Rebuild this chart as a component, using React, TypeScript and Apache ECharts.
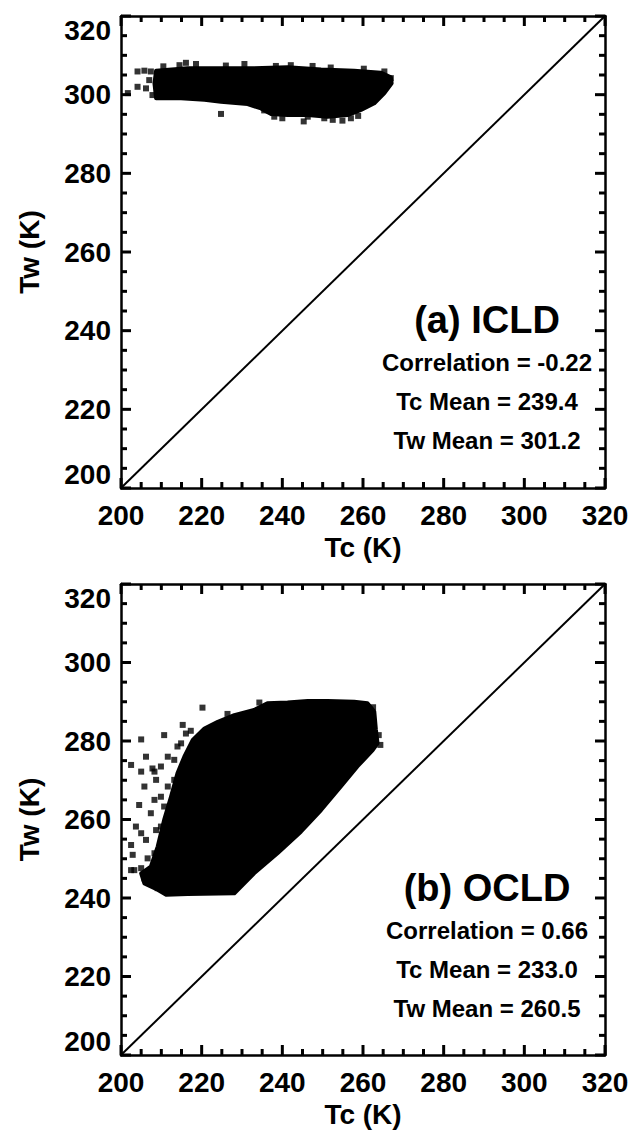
import React, { useEffect, useRef } from 'react';
import * as echarts from 'echarts';

// axis ticks shared by both panels (K)
const tickValues = [200, 220, 240, 260, 280, 300, 320];
const minorTickValues = [
  205, 210, 215, 225, 230, 235, 245, 250, 255, 265, 270, 275,
  285, 290, 295, 305, 310, 315,
];
const oneToOne = [
  [200, 200],
  [320, 320],
];

// (a) ICLD: outline of the solid cloud, then scattered points around it [Tc, Tw]
const icldCloud = [
  [208.7, 306.1], [216.5, 306.7], [224.8, 306.7], [233.0, 306.7], [241.3, 307.0],
  [249.6, 306.4], [257.8, 306.1], [264.4, 305.6], [266.9, 304.4], [267.1, 302.9],
  [265.3, 300.4], [262.8, 297.8], [259.5, 296.1], [256.2, 294.8], [251.2, 294.4],
  [246.3, 294.8], [241.3, 294.8], [237.2, 295.1], [234.7, 296.5], [231.4, 297.6],
  [224.8, 298.2], [220.7, 298.7], [214.9, 299.1], [208.7, 299.1], [208.3, 302.9],
];
const icldPoints = [
  [201.7, 300.4], [204.1, 305.9], [205.8, 306.1], [207.4, 305.9], [204.1, 302.0],
  [206.2, 301.6], [207.8, 299.9], [207.0, 303.7], [224.8, 295.1], [216.1, 308.1],
  [214.5, 307.5], [218.6, 307.8], [230.6, 307.8], [238.4, 307.3], [242.1, 307.5],
  [252.0, 306.9], [265.3, 305.9], [266.9, 304.2], [245.3, 293.2], [246.3, 294.4],
  [250.4, 294.0], [252.5, 293.6], [254.9, 293.4], [257.0, 294.0], [258.8, 294.6],
  [238.0, 294.4], [243.0, 295.3], [210.5, 307.2], [226.0, 307.4], [247.5, 307.3],
  [260.2, 306.6], [235.5, 296.0], [240.0, 294.0],
];
const icldText = ['(a) ICLD', 'Correlation = -0.22', 'Tc Mean = 239.4', 'Tw Mean = 301.2'];

// (b) OCLD
const ocldCloud = [
  [211.2, 240.8], [216.5, 241.0], [228.1, 241.2], [233.0, 246.3], [238.8, 251.4],
  [244.6, 256.9], [249.6, 262.4], [254.5, 268.4], [258.6, 273.5], [262.4, 277.7],
  [263.6, 279.4], [263.2, 282.8], [262.8, 287.5], [261.1, 289.6], [257.8, 290.0],
  [251.2, 290.2], [246.3, 290.2], [241.3, 289.8], [236.3, 289.6], [233.0, 287.9],
  [228.1, 286.6], [224.0, 284.9], [220.7, 283.2], [217.8, 280.3], [215.7, 276.0],
  [214.0, 271.8], [212.4, 265.8], [210.7, 259.9], [209.1, 253.1], [207.4, 248.0],
  [205.0, 246.3], [205.8, 243.7], [209.1, 242.1],
];
const ocldPoints = [
  [220.2, 288.5], [234.3, 289.8], [205.0, 280.4], [210.7, 281.5], [215.3, 284.1],
  [217.3, 282.6], [226.4, 286.9], [202.5, 273.9], [206.2, 276.0], [207.8, 273.0],
  [214.0, 278.6], [205.8, 268.4], [205.0, 272.2], [208.7, 270.1], [204.5, 263.7],
  [208.3, 265.0], [207.4, 261.6], [206.2, 254.8], [202.5, 253.5], [202.9, 251.0],
  [208.7, 257.3], [210.7, 263.3], [211.6, 268.4], [213.2, 275.2], [203.3, 247.1],
  [202.5, 247.1], [205.0, 247.6], [205.8, 245.0], [209.1, 242.5], [207.8, 246.3],
  [218.2, 276.0], [220.7, 281.1], [224.0, 283.2], [229.7, 285.3],
  [208.3, 272.2], [209.9, 273.5], [211.6, 276.0], [214.9, 279.4], [216.1, 281.9],
  [213.2, 270.1], [209.9, 265.8], [212.4, 261.6], [209.9, 258.2], [212.4, 254.8],
  [208.3, 251.4], [211.6, 250.5], [206.6, 250.1], [205.0, 256.5], [203.7, 258.2],
  [263.9, 281.5], [264.3, 279.0], [262.5, 288.6],
];
const ocldText = ['(b) OCLD', 'Correlation = 0.66', 'Tc Mean = 233.0', 'Tw Mean = 260.5'];

const FONT = '"Liberation Sans", Arial, Helvetica, sans-serif';

const panels = [
  { top: 16, height: 472, cloud: icldCloud, points: icldPoints, text: icldText },
  { top: 584, height: 471, cloud: ocldCloud, points: ocldPoints, text: ocldText },
];

const axisBase = (withLabels: boolean) => ({
  type: 'value',
  min: tickValues[0],
  max: tickValues[tickValues.length - 1],
  interval: tickValues[1] - tickValues[0],
  axisLine: { show: true, onZero: false, lineStyle: { color: '#000', width: 2.5 } },
  axisTick: { show: false },
  splitLine: { show: false },
  axisLabel: {
    show: withLabels,
    color: '#000',
    fontSize: 28,
    fontWeight: 'bold',
    fontFamily: FONT,
  },
});

const App: React.FC = () => {
  const chartRef = useRef<HTMLDivElement>(null);

  useEffect(() => {
    if (!chartRef.current) return;
    document.body.style.margin = '0';
    const chart = echarts.init(chartRef.current, undefined, { renderer: 'svg' });

    const xAxis: any[] = [];
    const yAxis: any[] = [];
    const series: any[] = [];
    const graphic: any[] = [];

    panels.forEach((p, i) => {
      const base = axisBase(true);
      xAxis.push({
        ...base,
        gridIndex: i,
        position: 'bottom',
        name: 'Tc (K)',
        nameLocation: 'middle',
        nameGap: 45,
        nameTextStyle: { color: '#000', fontSize: 28, fontWeight: 'bold', fontFamily: FONT },
        axisLabel: { ...base.axisLabel, margin: 13 },
      });
      xAxis.push({ ...axisBase(false), gridIndex: i, position: 'top' });
      yAxis.push({
        ...base,
        gridIndex: i,
        position: 'left',
        name: 'Tw (K)',
        nameLocation: 'middle',
        nameGap: 78,
        nameTextStyle: { color: '#000', fontSize: 28, fontWeight: 'bold', fontFamily: FONT },
        axisLabel: {
          ...base.axisLabel,
          margin: 10,
          verticalAlignMinLabel: 'bottom',
          verticalAlignMaxLabel: 'top',
        },
      });
      yAxis.push({ ...axisBase(false), gridIndex: i, position: 'right' });

      const cloud = p.cloud;
      series.push({
        type: 'custom',
        xAxisIndex: i * 2,
        yAxisIndex: i * 2,
        data: cloud,
        silent: true,
        renderItem: (params: any, api: any) => {
          if (params.dataIndex !== 0) return null;
          return {
            type: 'polygon',
            shape: { points: cloud.map((c) => api.coord(c)) },
            style: { fill: '#000', stroke: '#000', lineWidth: 4, lineJoin: 'round' },
          };
        },
      });
      series.push({
        type: 'scatter',
        xAxisIndex: i * 2,
        yAxisIndex: i * 2,
        data: p.points,
        symbol: 'rect',
        symbolSize: 6,
        itemStyle: { color: '#000' },
        silent: true,
      });
      series.push({
        type: 'line',
        xAxisIndex: i * 2,
        yAxisIndex: i * 2,
        data: oneToOne,
        symbol: 'none',
        lineStyle: { color: '#000', width: 2 },
        silent: true,
      });

      const offsets = [304, 346, 385, 424];
      p.text.forEach((t, k) => {
        graphic.push({
          type: 'text',
          x: 487,
          y: p.top + offsets[k],
          style: {
            text: t,
            fill: '#000',
            font: `bold ${k === 0 ? 38 : 24}px ${FONT}`,
            textAlign: 'center',
            textVerticalAlign: 'middle',
          },
        });
      });
    });

    chart.setOption({
      animation: false,
      backgroundColor: '#fff',
      grid: panels.map((p) => ({ left: 121, top: p.top, width: 484, height: p.height })),
      xAxis,
      yAxis,
      series,
    });

    // inward ticks on all four sides, placed through the axes' own scales
    panels.forEach((_p, i) => {
      const finder = { xAxisIndex: i * 2, yAxisIndex: i * 2 };
      const lo = chart.convertToPixel(finder, [tickValues[0], tickValues[0]]) as number[];
      const hi = chart.convertToPixel(
        finder,
        [tickValues[tickValues.length - 1], tickValues[tickValues.length - 1]],
      ) as number[];
      const l = lo[0];
      const b = lo[1];
      const r = hi[0];
      const t = hi[1];
      const w = 3;
      [...tickValues, ...minorTickValues].forEach((v) => {
        const len = tickValues.includes(v) ? 10 : 6;
        const pt = chart.convertToPixel(finder, [v, v]) as number[];
        const st = { fill: '#000' };
        graphic.push(
          { type: 'rect', z: 10, silent: true, shape: { x: pt[0] - w / 2, y: b - len, width: w, height: len }, style: st },
          { type: 'rect', z: 10, silent: true, shape: { x: pt[0] - w / 2, y: t, width: w, height: len }, style: st },
          { type: 'rect', z: 10, silent: true, shape: { x: l, y: pt[1] - w / 2, width: len, height: w }, style: st },
          { type: 'rect', z: 10, silent: true, shape: { x: r - len, y: pt[1] - w / 2, width: len, height: w }, style: st },
        );
      });
    });

    chart.setOption({ graphic });

    return () => {
      chart.dispose();
    };
  }, []);

  return <div ref={chartRef} style={{ width: '632px', height: '1131px' }} />;
};

export default App;
